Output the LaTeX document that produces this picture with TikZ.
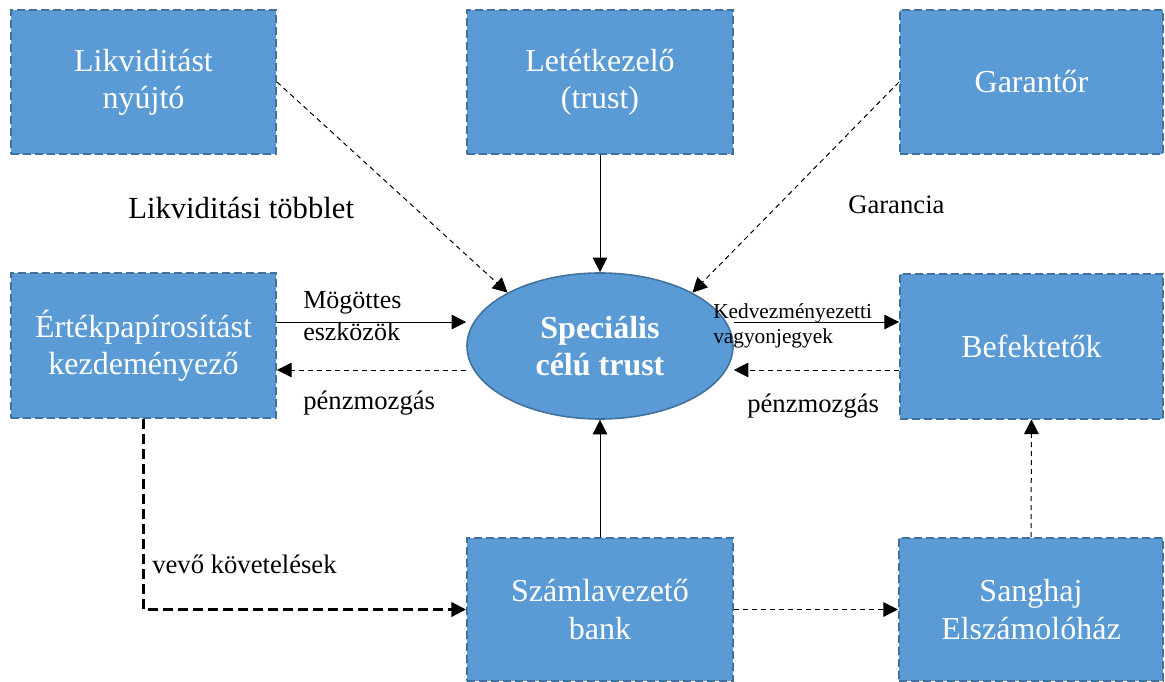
\documentclass[tikz,border=0pt]{standalone}
\usepackage{fontspec}
\setmainfont{Liberation Serif}
\usetikzlibrary{arrows.meta,shapes.geometric,calc}
\definecolor{boxfill}{HTML}{5B9BD5}
\definecolor{boxline}{HTML}{41719C}
\begin{document}
\begin{tikzpicture}[x=0.75pt,y=-0.75pt,
  box/.style={rectangle,fill=boxfill,draw=boxline,line width=1.5pt,
    dash pattern=on 6pt off 3pt,inner sep=0pt,text=white,align=center,
    font=\fontsize{24}{28}\selectfont},
  oval/.style={ellipse,fill=boxfill,draw=boxline,line width=1.2pt,inner sep=0pt,
    minimum width=199.5pt,minimum height=109.5pt,text=white,align=center,
    font=\bfseries\fontsize{24}{28}\selectfont},
  tip/.style={-{Triangle[length=11pt,width=11pt]}},
  conn/.style={tip,line width=0.75pt},
  dconn/.style={tip,line width=0.75pt,dash pattern=on 3.75pt off 3pt},
  tconn/.style={tip,line width=1.6pt,dash pattern=on 7.5pt off 3.75pt},
  lbl/.style={anchor=base west,inner sep=0pt,align=left,text=black}]
\useasboundingbox (0,0) rectangle (1165,682);

\node[box,minimum width=198.75pt,minimum height=108pt] (lik) at (143.5,82) {Likviditást\\nyújtó};
\node[box,minimum width=199.5pt,minimum height=108pt] (let) at (600,82) {Letétkezelő\\(trust)};
\node[box,minimum width=197.25pt,minimum height=108pt] (gar) at (1031.5,82) {Garantőr};
\node[box,minimum width=198.75pt,minimum height=108.75pt] (ert) at (143.5,345.5) {Értékpapírosítást\\kezdeményező};
\node[box,minimum width=197.25pt,minimum height=108.75pt] (bef) at (1031.5,346) {Befektetők};
\node[box,minimum width=199.5pt,minimum height=107.25pt] (szam) at (600,609.5) {Számlavezető\\bank};
\node[box,minimum width=198pt,minimum height=107.25pt] (san) at (1031,609.5) {Sanghaj\\Elszámolóház};
\node[oval] (ell) at (600,346) {Speciális\\célú trust};

% labels
\node[lbl,font=\fontsize{23}{27}\selectfont] (t1) at (128,218) {Likviditási többlet};
\node[lbl,font=\fontsize{20}{24}\selectfont] (t2) at (848,213) {Garancia};
\node[lbl,font=\fontsize{19.5}{24}\selectfont] (t3) at (303,340) {Mögöttes\\eszközök};
\node[lbl,font=\fontsize{20}{24}\selectfont] (t4) at (303,409) {pénzmozgás};
\node[lbl,font=\fontsize{16}{18.75}\selectfont] (t5) at (713,343) {Kedvezményezetti\\vagyonjegyek};
\node[lbl,font=\fontsize{20}{24}\selectfont] (t6) at (747,412) {pénzmozgás};
\node[lbl,font=\fontsize{20}{24}\selectfont] (t7) at (152,573) {vevő követelések};

% connectors
\draw[dconn] (lik.east) -- (ell.150);
\draw[conn] (let.south) -- (ell.north);
\draw[dconn] (gar.west) -- (ell.30);
\draw[conn] ([yshift=17.6pt]ert.east) coordinate (a1) -- (a1 -| ell.west);
\draw[dconn] ([yshift=-18pt]ell.west) coordinate (a2) -- (a2 -| ert.east);
\draw[conn] ([yshift=18pt]ell.east) coordinate (a3) -- (a3 -| bef.west);
\draw[dconn] ([yshift=-18pt]bef.west) coordinate (a4) -- (a4 -| ell.east);
\draw[conn] (szam.north) -- (ell.south);
\draw[tconn] (ert.south) |- (szam.west);
\draw[dconn] (szam.east) -- (san.west);
\draw[dconn] (san.north) -- (bef.south);
\end{tikzpicture}
\end{document}
